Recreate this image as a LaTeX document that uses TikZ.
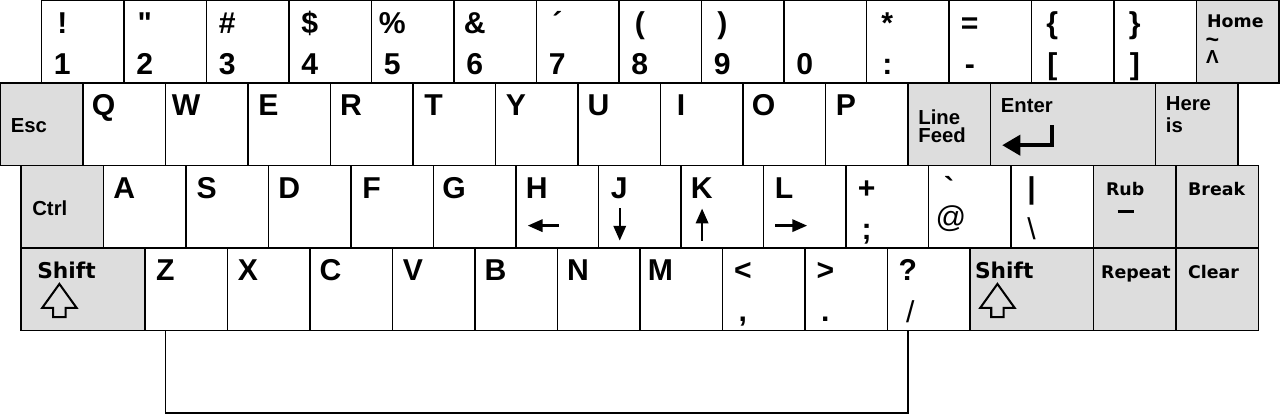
\documentclass[tikz,border=0pt]{standalone}
\usepackage{fontspec}
\newfontfamily\keyfont{Liberation Sans}
\newfontfamily\verafont{DejaVu Sans}
\usetikzlibrary{arrows.meta}
\definecolor{keygray}{RGB}{221,221,221}

\tikzset{
  keycap/.style={draw, line width=0.5pt, fill=white, anchor=north west,
    minimum width=#1cm, minimum height=1cm, inner sep=0pt, outer sep=0pt},
  keycap/.default=1,
  modkey/.style={keycap=#1, fill=keygray},
  modkey/.default=1,
  sym/.style={font=\keyfont\bfseries\fontsize{10.4}{12}\selectfont, inner sep=0pt, anchor=base},
  thinsym/.style={sym, font=\keyfont\fontsize{10.4}{12}\selectfont},
  modtext/.style={font=\keyfont\bfseries\fontsize{7}{6.5}\selectfont, inner sep=0pt, anchor=base west, align=left},
  veratext/.style={font=\verafont\bfseries\fontsize{6}{7}\selectfont, inner sep=0pt, anchor=base west},
  shifttext/.style={veratext, font=\verafont\bfseries\fontsize{7.5}{9}\selectfont},
  cursor/.style={line width=0.8pt, -{Triangle[length=1.8mm, width=1.5mm]}},
  uparrow/.pic={\draw[line width=0.7pt] (0,0) -- (0.208,-0.289) -- (0.075,-0.289) -- (0.075,-0.402)
    -- (-0.075,-0.402) -- (-0.075,-0.289) -- (-0.208,-0.289) -- cycle;}
}

\begin{document}
\begin{tikzpicture}
\useasboundingbox (-0.005,0.008) rectangle (15.51,-5.01);

% rangée des chiffres
\foreach \up/\low [count=\i from 0] in {!/1, "/2, \#/3, \$/4, \%/5, \&/6, ´/7, {(}/8, {)}/9, /0, */:, =/-, \{/[, \}/]} {
  \node[keycap] (kn\i) at (0.5+\i,0) {};
  \node[sym] (kn\i-up) at (0.75+\i,-0.4) {\up};
  \node[sym] (kn\i-low) at (0.75+\i,-0.9) {\low};
}
\node[modkey] (home) at (14.5,0) {};
\node[veratext] (home-t) at (14.62,-0.33) {Home};
\node[sym, font=\keyfont\bfseries\fontsize{8}{8}\selectfont] (home-tilde) at (14.69,-0.57) {\textasciitilde};
\node[sym, font=\keyfont\bfseries\fontsize{6.5}{7}\selectfont] (home-wedge) at (14.69,-0.765) {Λ};

% rangée QWERTY
\node[modkey] (esc) at (0,-1) {};
\node[modtext] (esc-t) at (0.12,-1.6) {Esc};
\foreach \l [count=\i from 0] in {Q,W,E,R,T,Y,U,I,O,P} {
  \node[keycap] (k\l) at (1+\i,-1) {};
  \node[sym] (k\l-t) at (1.25+\i,-1.395) {\l};
}
\node[modkey] (lf) at (11,-1) {};
\node[modtext, anchor=north west] (lf-t) at (11.12,-1.31) {Line\\Feed};
\node[modkey=2] (enter) at (12,-1) {};
\node[modtext] (enter-t) at (12.12,-1.35) {Enter};
\draw[line width=1.5pt, -{Triangle[length=2.2mm, width=2.4mm]}] (12.743,-1.51) -- (12.743,-1.752) -- (12.142,-1.752);
\node[modkey] (here) at (14,-1) {};
\node[modtext, anchor=north west, font=\keyfont\bfseries\fontsize{7}{7.4}\selectfont] (here-t) at (14.12,-1.16) {Here\\is};

% rangée du milieu
\node[modkey] (ctrl) at (0.25,-2) {};
\node[modtext] (ctrl-t) at (0.38,-2.6) {Ctrl};
\foreach \l [count=\i from 0] in {A,S,D,F,G,H,J,K,L,+,`,|} {
  \node[keycap] (km\i) at (1.25+\i,-2) {};
  \node[sym] (km\i-t) at (1.5+\i,-2.395) {\l};
}
\draw[cursor] (6.768,-2.727) -- (6.392,-2.727);
\draw[cursor] (7.507,-2.515) -- (7.507,-2.909);
\draw[cursor] (8.505,-2.909) -- (8.505,-2.52);
\draw[cursor] (9.394,-2.727) -- (9.778,-2.727);
\node[sym] (km9-low) at (10.5,-2.89) {;};
\node[thinsym] (km10-low) at (11.52,-2.75) {@};
\node[thinsym] (km11-low) at (12.5,-2.89) {\textbackslash};
\node[modkey] (rub) at (13.25,-2) {};
\node[veratext] (rub-t) at (13.395,-2.364) {Rub};
\draw[line width=1pt] (13.543,-2.56) -- (13.737,-2.56);
\node[modkey] (brk) at (14.25,-2) {};
\node[veratext] (brk-t) at (14.39,-2.364) {Break};

% rangée du bas
\node[modkey=1.5] (lshift) at (0.25,-3) {};
\node[shifttext] (lshift-t) at (0.44,-3.37) {Shift};
\pic at (0.715,-3.434) {uparrow};
\foreach \l [count=\i from 0] in {Z,X,C,V,B,N,M,<,>,?} {
  \node[keycap] (kb\i) at (1.75+\i,-3) {};
  \node[sym] (kb\i-t) at (2+\i,-3.395) {\l};
}
\node[sym] (kb7-low) at (9.0,-3.89) {,};
\node[sym] (kb8-low) at (10.0,-3.89) {.};
\node[thinsym] (kb9-low) at (11.03,-3.9) {/};
\node[modkey=1.5] (rshift) at (11.75,-3) {};
\node[shifttext] (rshift-t) at (11.806,-3.37) {Shift};
\pic at (12.085,-3.434) {uparrow};
\node[modkey] (rep) at (13.25,-3) {};
\node[veratext] (rep-t) at (13.335,-3.37) {Repeat};
\node[modkey] (clr) at (14.25,-3) {};
\node[veratext] (clr-t) at (14.39,-3.37) {Clear};

% barre d'espace
\node[keycap=9] (space) at (2,-4) {};
\end{tikzpicture}
\end{document}
